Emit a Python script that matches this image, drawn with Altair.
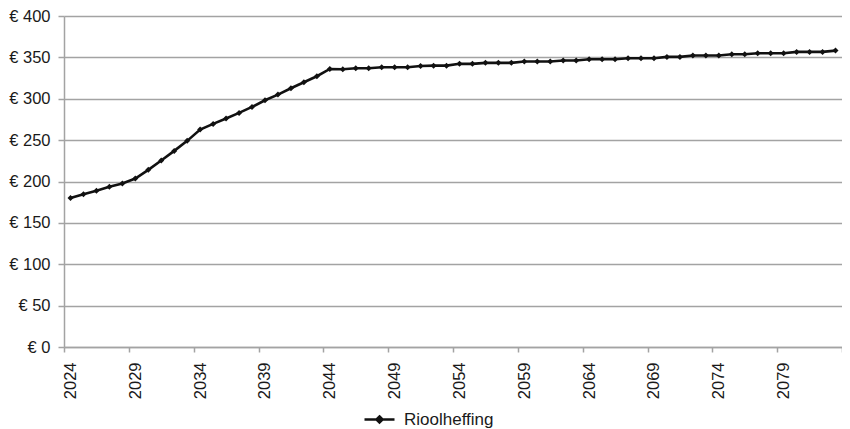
import altair as alt
import pandas as pd

years = list(range(2024, 2084))
values = [
    180.0, 184.7, 188.7, 193.6, 197.6, 203.6, 214.1, 225.4, 237.0, 249.1,
    262.8, 269.6, 276.1, 282.9, 290.1, 298.2, 305.0, 312.7, 319.9, 327.2,
    336.0, 335.6, 336.8, 336.8, 338.0, 338.0, 338.0, 339.6,
    340.0, 340.0, 342.2, 342.2, 343.4, 343.4, 343.4, 345.0, 345.0, 345.0,
    346.2, 346.2, 347.8, 347.8, 347.8, 349.0, 349.0, 349.0, 350.6, 350.6,
    352.2, 352.2, 352.2, 353.8, 353.8, 355.0, 355.0, 355.0, 356.6, 356.6,
    356.6, 358.2,
]
series_name = "Rioolheffing"
y_ticks = [0, 50, 100, 150, 200, 250, 300, 350, 400]
x_ticks = [2023.5 + 5 * i for i in range(13)]

df = pd.DataFrame({"jaar": years, "bedrag": values, "serie": series_name})

GRAY = "#a3a3a3"
TEXT = "#1a1a1a"
FONT = "Liberation Sans"

chart = (
    alt.Chart(df)
    .mark_line(
        strokeWidth=2.6,
        point=alt.OverlayMarkDef(shape="diamond", size=36, filled=True, color="#111111"),
    )
    .encode(
        x=alt.X(
            "jaar:Q",
            scale=alt.Scale(domain=[2023.5, 2083.5], nice=False, zero=False),
            axis=alt.Axis(
                title=None,
                values=x_ticks,
                grid=False,
                labelAngle=270,
                labelOffset=6.48,
                labelExpr="datum.value > 2083 ? '' : format(datum.value + 0.5, 'd')",
                labelFontSize=16.5,
                labelColor=TEXT,
                labelPadding=10,
                tickSize=5,
                tickColor=GRAY,
                tickWidth=1.5,
                domainColor=GRAY,
                domainWidth=1.5,
                labelOverlap=False,
                labelFlush=False,
            ),
        ),
        y=alt.Y(
            "bedrag:Q",
            scale=alt.Scale(domain=[0, 400], nice=False),
            axis=alt.Axis(
                title=None,
                values=y_ticks,
                labelExpr="'€ ' + datum.value",
                labelFontSize=16.5,
                labelColor=TEXT,
                labelPadding=8,
                tickSize=6,
                tickColor=GRAY,
                tickWidth=1.5,
                gridColor=GRAY,
                gridWidth=1.5,
                domainColor=GRAY,
                domainWidth=1.5,
            ),
        ),
        color=alt.Color(
            "serie:N",
            scale=alt.Scale(range=["#111111"]),
            legend=alt.Legend(
                title=None,
                orient="none",
                legendX=299,
                legendY=387,
                padding=0,
                symbolType="M-1,0H1M0,-0.2L0.2,0L0,0.2L-0.2,0Z",
                symbolSize=900,
                symbolStrokeWidth=2.6,
                symbolFillColor="#111111",
                symbolStrokeColor="#111111",
                labelFontSize=17,
                labelColor=TEXT,
                labelOffset=8,
            ),
        ),
    )
    .properties(
        width=778,
        height=331,
        autosize=alt.AutoSizeParams(type="none"),
        padding={"left": 56, "top": 8, "right": 0, "bottom": 82},
    )
    .configure(font=FONT)
    .configure_view(stroke=None)
)

chart.save("out.html", embed_options={"renderer": "svg", "actions": False})
